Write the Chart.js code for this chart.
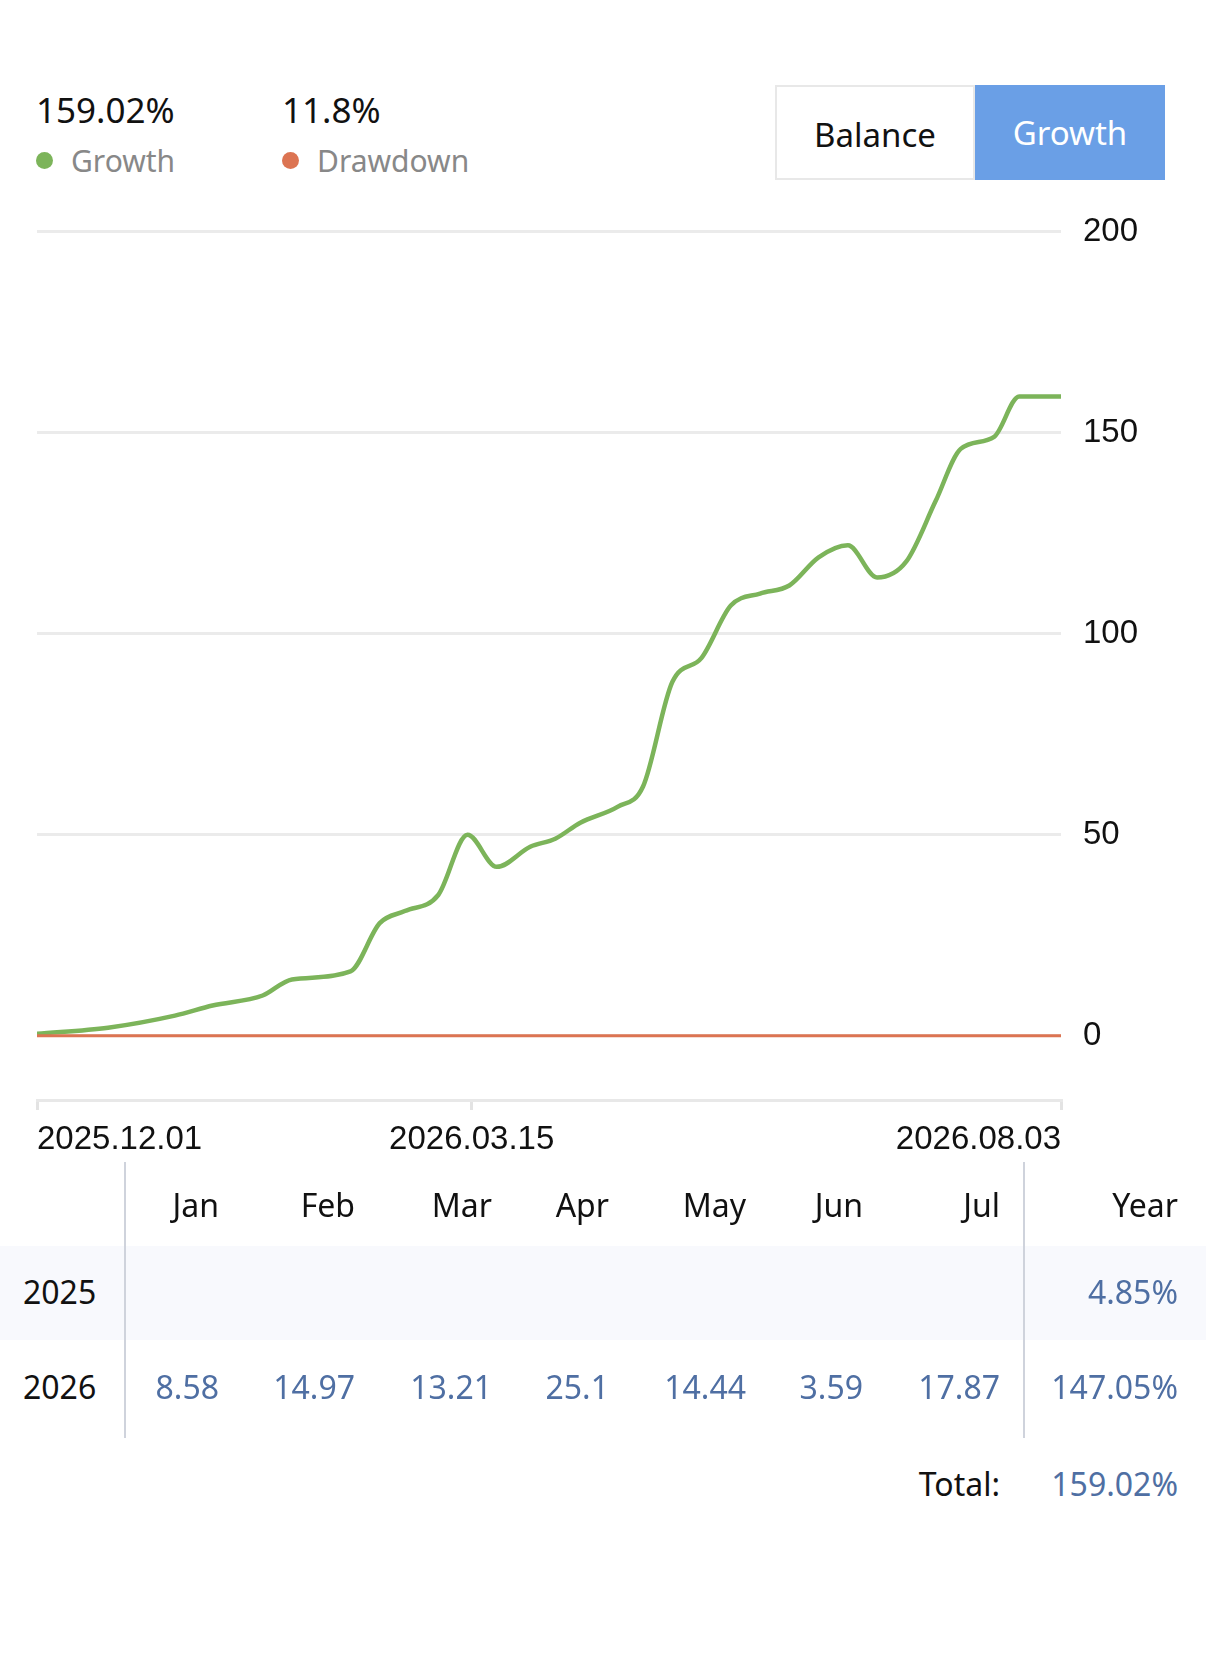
<!DOCTYPE html>
<html><head><meta charset="utf-8">
<script src="https://cdn.jsdelivr.net/npm/chart.js@4"></script>
<style>
body{margin:0;width:1206px;height:1663px;background:#fff;font-family:"Noto Sans",sans-serif;position:relative;overflow:hidden}
.abs{position:absolute;white-space:nowrap}
.big{font-size:35px;color:#111}
.leg{font-size:30px;color:#888}
.dot{display:inline-block;width:17px;height:17px;border-radius:50%;margin-right:18px;vertical-align:3px}
.btn{top:85px;height:95px;line-height:95px;text-align:center;font-size:33px;box-sizing:border-box}
.cell{font-size:32px;text-align:right;width:200px}
.num{color:#4f6fa3}
</style></head><body>
<div class="abs big" style="left:36px;top:86px">159.02%</div>
<div class="abs big" style="left:282px;top:86px">11.8%</div>
<div class="abs leg" style="left:36px;top:140px"><span class="dot" style="background:#7cb45a"></span>Growth</div>
<div class="abs leg" style="left:282px;top:140px"><span class="dot" style="background:#dc7452"></span>Drawdown</div>
<div class="abs btn" style="left:775px;width:200px;border:2px solid #e8e8e8;color:#111">Balance</div>
<div class="abs btn" style="left:975px;width:190px;background:#6a9fe6;color:#fff">Growth</div>
<div class="abs" style="left:0;top:190px;width:1206px;height:1000px"><canvas id="c"></canvas></div>
<div class="abs" style="left:0;top:1246px;width:1206px;height:94px;background:#f8f9fd"></div>
<div class="abs" style="left:124px;top:1162px;width:2px;height:276px;background:#cfd3dc"></div>
<div class="abs" style="left:1023px;top:1162px;width:2px;height:276px;background:#cfd3dc"></div>
<div id="tbl"></div>
<script>
// growth curve, days since 2025.12.01
const days = [0,17,33,42,54,61,75,82,88,96,103,110,118,124,130,139,145,152,159,166,173,180,187,194,201,208,215,221,229,235,245];
const growth = [0.5,2,5,7.5,10,14,16,28,31,35,50,42,47,49,53,57,62,88,94,107,110,112,119,122,114,118,133,146,149,159,159];
const drawdown = [0,0];
const drawdownDays = [0,245];
const xTicks = [0,104,245];
const xTickLabels = ['2025.12.01','2026.03.15','2026.08.03'];
const yTicks = [0,50,100,150,200];

const months = ['Jan','Feb','Mar','Apr','May','Jun','Jul'];
const years = ['2025','2026'];
const monthly = [[], ['8.58','14.97','13.21','25.1','14.44','3.59','17.87']];
const yearTotals = ['4.85%','147.05%'];
const total = '159.02%';

const colRight = [219,355,492,609,746,863,1000];
const rowTop = [1270,1365];
let h = '';
months.forEach((m,i)=>{ h += `<div class="abs cell" style="left:${colRight[i]-200}px;top:1183px;color:#111">${m}</div>`; });
h += `<div class="abs cell" style="left:978px;top:1183px;color:#111">Year</div>`;
years.forEach((y,r)=>{
  h += `<div class="abs" style="left:23px;top:${rowTop[r]}px;font-size:32px;color:#111">${y}</div>`;
  monthly[r].forEach((v,i)=>{ h += `<div class="abs cell num" style="left:${colRight[i]-200}px;top:${rowTop[r]}px">${v}</div>`; });
  h += `<div class="abs cell num" style="left:978px;top:${rowTop[r]}px">${yearTotals[r]}</div>`;
});
h += `<div class="abs cell" style="left:800px;top:1462px;color:#111">Total:</div>`;
h += `<div class="abs cell num" style="left:978px;top:1462px">${total}</div>`;
document.getElementById('tbl').innerHTML = h;

new Chart(document.getElementById('c'), {
  type: 'line',
  data: { datasets: [
    { data: drawdownDays.map((d,i)=>({x:d,y:drawdown[i]})), borderColor:'#dc7452', borderWidth:3, pointRadius:0 },
    { data: days.map((d,i)=>({x:d,y:growth[i]})), borderColor:'#7cb45a', borderWidth:4.5, pointRadius:0, cubicInterpolationMode:'monotone' }
  ]},
  options: {
    responsive:true, maintainAspectRatio:false, animation:false,
    layout:{ padding:{ left:37, top:0, right:0, bottom:0 } },
    plugins:{ legend:{display:false}, tooltip:{enabled:false} },
    scales:{
      x:{ type:'linear', min:0, max:245,
        afterBuildTicks: s => { s.ticks = xTicks.map(v=>({value:v})); },
        afterFit: s => { s.height = 90; },
        ticks:{ callback:(v,i)=>xTickLabels[i], align:'inner', maxRotation:0, color:'#111', font:{family:'Liberation Sans', size:33}, padding:10 },
        grid:{ drawOnChartArea:false, tickLength:10, color:'#e3e3e3', lineWidth:3 },
        border:{ color:'#e8e8e8', width:3 }
      },
      y:{ position:'right', min:-16, max:200,
        afterBuildTicks: s => { s.ticks = yTicks.map(v=>({value:v})); },
        afterFit: s => { s.width = 145; },
        ticks:{ color:'#111', font:{family:'Liberation Sans', size:33}, padding:22 },
        grid:{ color:'#ebebeb', lineWidth:3, drawTicks:false },
        border:{ display:false }
      }
    }
  }
});
</script>
</body></html>
